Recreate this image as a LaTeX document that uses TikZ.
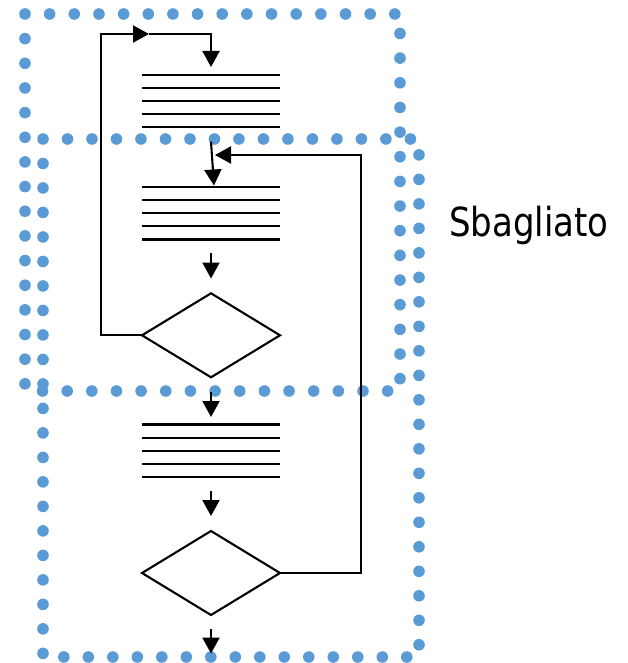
\documentclass[tikz,border=0pt]{standalone}
\usepackage{fontspec}
\setmainfont{DejaVu Sans}
\usetikzlibrary{arrows.meta,shapes.geometric,calc,decorations.markings}
\definecolor{dotblue}{RGB}{91,155,213}
\begin{document}
\begin{tikzpicture}[x=1pt,y=-1pt,
  flow/.style={line width=2.1pt, draw=black},
  arr/.style={flow, -{Triangle[length=16pt,width=17pt]}},
  dotbox/.style={decorate, decoration={markings,
     mark=between positions 0 and 0.999 step #1 with {\fill[dotblue] (0,0) circle (5.8pt);}}},
  procbox/.style={minimum width=138pt, minimum height=52.6pt, inner sep=0pt, outer sep=0pt},
  decision/.style={diamond, draw, line width=2.1pt, minimum width=138pt, minimum height=84pt, inner sep=0pt, outer sep=0pt},
  lbl/.style={font=\fontsize{40}{42}\selectfont, inner sep=0pt, anchor=base west},
]
\useasboundingbox (0,0) rectangle (627,663);

% dotted loop boxes
\path[dotbox=24.656pt] (25,14) rectangle (400,391);
\path[dotbox=24.493pt] (43,139) rectangle (419,657);

% process blocks
\node[procbox] (p1) at (211,101) {};
\node[procbox] (p2) at (211,213.2) {};
\node[procbox] (p3) at (211,450.8) {};
\foreach \n in {p1,p2,p3}{
  \foreach \i in {0,...,4}{
    \draw[flow] ($(\n.north west)!\i/4!(\n.south west)$) -- ($(\n.north east)!\i/4!(\n.south east)$);
  }
}

% decisions
\node[decision] (d1) at (211,335.3) {};
\node[decision] (d2) at (211,573) {};

% coordinates for connectors
\coordinate (lA) at (101,335.3);
\coordinate (lB) at (101,34);
\coordinate (lM) at (149,34);
\coordinate (lC) at (211,34);
\coordinate (lT) at (211,67);
\coordinate (s2) at (211,141.7);
\coordinate (t2) at (214,185.5);
\coordinate (rA) at (361,573);
\coordinate (rB) at (361,155);
\coordinate (rT) at (215,155);
\coordinate (s3) at (211,252.7);
\coordinate (t3) at (211,278.5);
\coordinate (s4) at (211,391.7);
\coordinate (t4) at (211,417);
\coordinate (s5) at (211,490.7);
\coordinate (t5) at (211,516);
\coordinate (s6) at (211,629);
\coordinate (t6) at (211,653.5);

% outer loop back
\draw[arr] (d1.west) -- (lA) -- (lB) -- (lM);
\draw[arr] (lM) -- (lC) -- (lT);
% inner loop back
\draw[arr] (d2.east) -- (rA) -- (rB) -- (rT);
% straight arrows
\draw[arr] (s2) -- (t2);
\draw[arr] (s3) -- (t3);
\draw[arr] (s4) -- (t4);
\draw[arr] (s5) -- (t5);
\draw[arr] (s6) -- (t6);

% label
\node[lbl] (txt) at (449,236.7) {\scalebox{0.85}[1]{Sbagliato}};
\end{tikzpicture}
\end{document}
